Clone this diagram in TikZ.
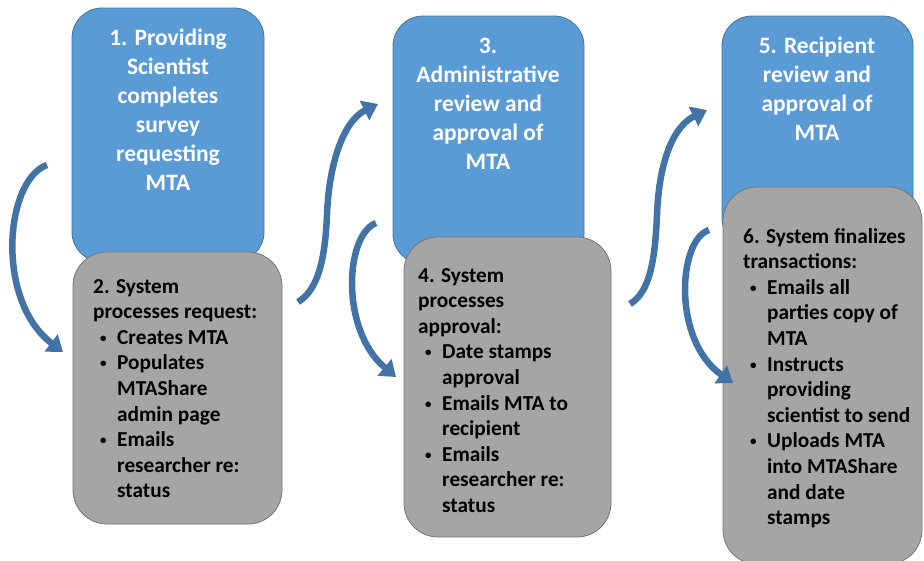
\documentclass[tikz,border=0pt]{standalone}
\usepackage{fontspec}
\setmainfont{Carlito}
\usetikzlibrary{arrows.meta}
\definecolor{bluefill}{RGB}{91,155,213}
\definecolor{blueline}{RGB}{65,113,156}
\definecolor{grayfill}{RGB}{165,165,165}
\definecolor{grayline}{RGB}{118,118,118}
\definecolor{arrowcol}{RGB}{66,114,166}
\newcommand{\bul}{\makebox[24pt][l]{\hspace{7pt}\raisebox{2pt}{\fontsize{13}{13}\selectfont\textbullet}}}
\newcommand{\ind}{\hspace{24pt}}
\tikzset{
  bluebox/.style={draw=blueline, fill=bluefill, line width=0.8pt, rounded corners=30pt, inner sep=0pt},
  graybox/.style={draw=grayline, fill=grayfill, line width=0.8pt, rounded corners=34pt, inner sep=0pt},
  bluetext/.style={anchor=base, inner sep=0pt, text=white, font={\fontsize{23.5}{29}\selectfont\bfseries}},
  graytext/.style={anchor=base west, inner sep=0pt, text=black, font={\fontsize{21.3}{25.6}\selectfont\bfseries}},
  flowarrow/.style={draw=arrowcol, line width=6.5pt, -{Triangle[width=21pt,length=15pt]}}
}
\begin{document}
\begin{tikzpicture}[x=1pt,y=-1pt]
\useasboundingbox (0,0) rectangle (924,560);
% blue boxes
\node[bluebox, minimum width=192pt, minimum height=254pt] (b1) at (168,135) {};
\node[bluebox, minimum width=191pt, minimum height=248pt] (b3) at (488.5,140) {};
\node[bluebox, minimum width=191pt, minimum height=232pt] (b5) at (817.5,132) {};
\node[bluetext] (t1) at (168,45) {\begin{tabular}[t]{@{}c@{}}1. Providing\\Scientist\\completes\\survey\\requesting\\MTA\end{tabular}};
\node[bluetext] (t3) at (488,53) {\begin{tabular}[t]{@{}c@{}}3.\\Administrative\\review and\\approval of\\MTA\end{tabular}};
\node[bluetext] (t5) at (817,53) {\begin{tabular}[t]{@{}c@{}}5. Recipient\\review and\\approval of\\MTA\end{tabular}};
% gray boxes
\node[graybox, minimum width=209pt, minimum height=272pt] (b2) at (177.5,388) {};
\node[graybox, minimum width=207pt, minimum height=300pt] (b4) at (507.5,387) {};
\node[graybox, minimum width=199pt, minimum height=377pt] (b6) at (822.5,375.5) {};
\node[graytext] (t2) at (93,293) {\begin{tabular}[t]{@{}l@{}}2. System\\processes request:\\\bul Creates MTA\\\bul Populates\\\ind MTAShare\\\ind admin page\\\bul Emails\\\ind researcher re:\\\ind status\end{tabular}};
\node[graytext] (t4) at (418,282) {\begin{tabular}[t]{@{}l@{}}4. System\\processes\\approval:\\\bul Date stamps\\\ind approval\\\bul Emails MTA to\\\ind recipient\\\bul Emails\\\ind researcher re:\\\ind status\end{tabular}};
\node[graytext] (t6) at (743,243) {\begin{tabular}[t]{@{}l@{}}6. System finalizes\\transactions:\\\bul Emails all\\\ind parties copy of\\\ind MTA\\\bul Instructs\\\ind providing\\\ind scientist to send\\\bul Uploads MTA\\\ind into MTAShare\\\ind and date\\\ind stamps\end{tabular}};
% arrow end points
\coordinate (a1s) at (47,165);
\coordinate (a1e) at (63,352);
\coordinate (a2s) at (298,302);
\coordinate (a2m) at (327,215);
\coordinate (a2e) at (378,104);
\coordinate (a3s) at (376,223);
\coordinate (a3e) at (396,377);
\coordinate (a4s) at (630,304);
\coordinate (a4m) at (657,215);
\coordinate (a4e) at (707,110);
\coordinate (a5s) at (709,230);
\coordinate (a5e) at (733,383);
% arrows
\draw[flowarrow] (a1s) .. controls (5,180) and (-5,300) .. (a1e);
\draw[flowarrow] (a2s) .. controls (318,290) and (325,260) .. (a2m) .. controls (329,160) and (345,120) .. (a2e);
\draw[flowarrow] (a3s) .. controls (345,235) and (340,330) .. (a3e);
\draw[flowarrow] (a4s) .. controls (650,292) and (655,260) .. (a4m) .. controls (659,160) and (674,126) .. (a4e);
\draw[flowarrow] (a5s) .. controls (678,240) and (672,340) .. (a5e);
\end{tikzpicture}
\end{document}
